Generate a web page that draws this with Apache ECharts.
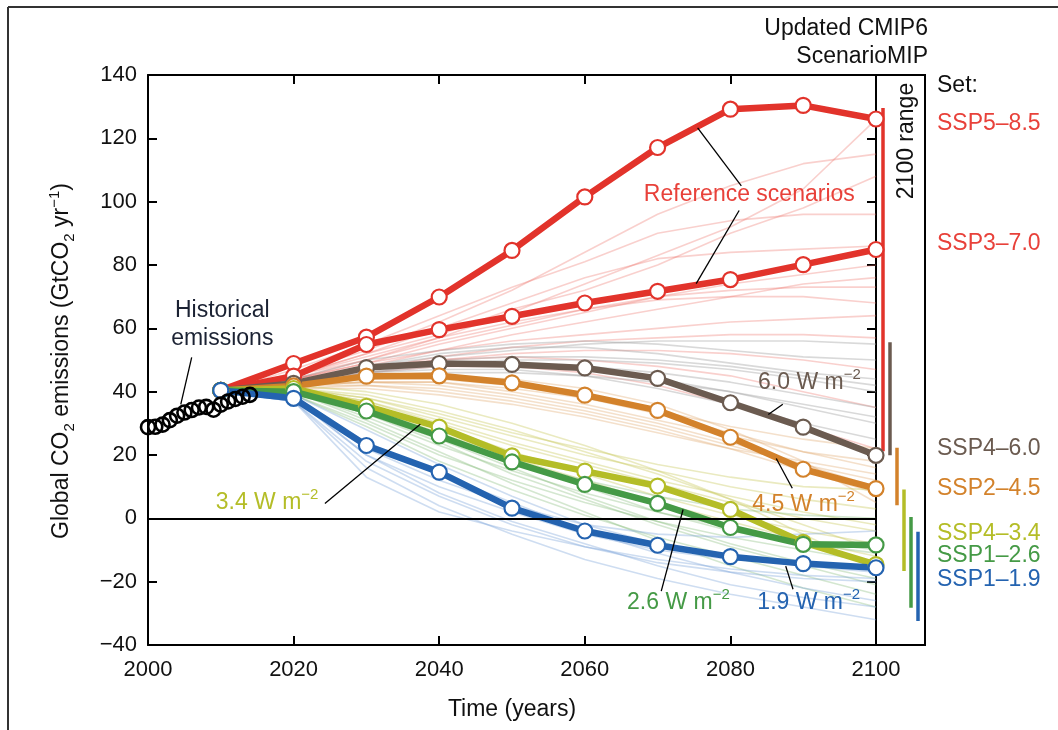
<!DOCTYPE html>
<html><head><meta charset="utf-8">
<script src="https://cdn.jsdelivr.net/npm/echarts@6/dist/echarts.min.js"></script>
<style>html,body{margin:0;padding:0;background:#fff}#c{width:1058px;height:730px}</style>
</head><body><div id="c"></div>
<script>
// ---------------- DATA ----------------
const xTicks = [2000, 2020, 2040, 2060, 2080, 2100];
const yTicks = [-40, -20, 0, 20, 40, 60, 80, 100, 120, 140];
const years = [2010, 2020, 2030, 2040, 2050, 2060, 2070, 2080, 2090, 2100];
const histYears = [2000,2001,2002,2003,2004,2005,2006,2007,2008,2009,2010,2011,2012,2013,2014];
const histValues = [28.8,28.9,29.6,31.0,32.4,33.4,34.2,35.0,35.2,34.3,35.9,36.9,37.7,38.4,39.0];

const ssp585 = [40.4, 48.9, 57.2, 69.9, 84.6, 101.5, 117.1, 129.2, 130.4, 126.1];
const ssp370 = [40.4, 44.9, 54.9, 59.6, 63.8, 68.0, 71.7, 75.4, 80.1, 84.9];
const ssp460 = [40.4, 42.6, 47.6, 48.9, 48.6, 47.5, 44.2, 36.5, 28.8, 19.9];
const ssp245 = [40.4, 41.8, 44.9, 45.0, 42.8, 38.9, 34.1, 25.6, 15.5, 9.4];
const ssp434 = [40.4, 41.0, 35.4, 28.8, 19.7, 14.9, 10.2, 2.8, -7.6, -14.6];
const ssp126 = [40.4, 40.0, 33.9, 26.0, 17.8, 10.7, 4.7, -2.9, -8.2, -8.4];
const ssp119 = [40.4, 37.9, 23.0, 14.6, 3.2, -4.0, -8.5, -12.1, -14.3, -15.6];

// faint individual model runs (values at the same years)
const redRuns = [
  [40,46,53,62,72,84,96,105,112,115],
  [40,45,50,57,65,74,83,92,104,126],
  [40,47,55,64,73,81,90,94,96,96],
  [40,45,52,58,66,72,80,90,98,108],
  [40,44,49,55,60,65,70,74,77,80],
  [40,44,50,56,61,66,70,72,73,73],
  [40,45,51,57,62,66,69,70,70,68],
  [40,43,48,53,58,62,66,70,74,76],
  [40,44,49,53,56,58,60,62,63,64],
  [40,43,47,51,54,56,57,58,58,57],
  [40,44,48,50,51,50,48,45,40,35],
  [40,43,46,48,48,46,42,36,29,22],
  [40,45,52,60,68,76,82,84,85,86],
  [40,44,47,50,52,53,53,52,50,47]
];
const grayRuns = [
  [40,43,48,51,53,55,56,56,56,55],
  [40,43,47,50,51,51,50,48,45,42],
  [40,42,46,48,49,48,46,43,39,35],
  [40,43,47,49,49,47,44,40,35,30],
  [40,42,45,46,46,45,43,40,36,32],
  [40,43,48,52,54,54,52,49,46,44],
  [40,42,46,47,47,45,41,36,30,25],
  [40,44,50,53,55,56,55,53,51,50],
  [40,43,46,49,50,50,49,47,44,40]
];
const orangeRuns = [
  [40,42,43,43,41,38,34,29,25,22],
  [40,42,44,44,42,38,33,27,21,16],
  [40,42,42,41,38,34,29,23,17,12],
  [40,41,42,40,37,33,28,22,15,8],
  [40,42,43,42,39,35,30,24,17,10],
  [40,42,44,45,44,41,36,28,18,5],
  [40,41,41,39,36,32,27,22,18,14],
  [40,42,43,43,40,36,31,26,21,18]
];
const yellowRuns = [
  [40,41,38,33,27,22,17,13,10,9],
  [40,41,37,31,24,18,12,7,2,-2],
  [40,40,36,29,21,14,7,1,-4,-8],
  [40,41,39,34,28,21,14,6,-2,-10],
  [40,40,35,27,19,12,5,-1,-7,-12],
  [40,42,40,36,30,23,15,6,-5,-16],
  [40,41,38,32,26,20,15,10,6,3],
  [40,41,37,30,23,17,11,5,0,-4]
];
const greenRuns = [
  [40,40,34,26,18,12,7,3,1,0],
  [40,40,32,23,15,8,2,-3,-7,-10],
  [40,39,30,20,12,5,-1,-6,-10,-14],
  [40,40,33,25,16,7,-1,-8,-14,-19],
  [40,39,29,18,9,1,-6,-12,-18,-24],
  [40,40,31,21,11,2,-7,-15,-22,-28],
  [40,41,36,28,19,10,2,-4,-8,-11],
  [40,40,33,24,14,6,-2,-9,-15,-21]
];
const blueRuns = [
  [40,38,22,12,4,-2,-5,-6,-5,-4],
  [40,38,20,10,2,-5,-10,-13,-14,-15],
  [40,37,18,7,-2,-9,-14,-17,-19,-20],
  [40,38,24,14,5,-4,-11,-17,-22,-26],
  [40,37,16,4,-5,-13,-19,-24,-28,-32],
  [40,39,28,17,7,-2,-8,-12,-15,-17],
  [40,38,20,8,-1,-8,-15,-21,-25,-28],
  [40,37,13,2,-4,-9,-13,-16,-18,-19]
];

// 2100 ranges (low, high) for each set
const rangeNames = ['SSP5/3', 'SSP4–6.0', 'SSP2–4.5', 'SSP4–3.4', 'SSP1–2.6', 'SSP1–1.9'];
const rangeLow  = [21.2, 19.9, 4.1, -16.6, -28.2, -32.4];
const rangeHigh = [129.6, 55.6, 22.3, 9.1, 0.4, -4.2];

const setLabels = ['SSP5–8.5', 'SSP3–7.0', 'SSP4–6.0', 'SSP2–4.5', 'SSP4–3.4', 'SSP1–2.6', 'SSP1–1.9'];

// ---------------- STYLE / LAYOUT ----------------
const FONT = '"Liberation Sans", Arial, Helvetica, sans-serif';
const C = {
  red: '#e2332b', gray: '#6b5b50', orange: '#d3822b', yellow: '#b4bd27', green: '#459a46', blue: '#2463b0'
};
const faintColors = {
  red: 'rgba(236,110,100,0.32)', gray: 'rgba(160,160,160,0.40)', orange: 'rgba(225,170,110,0.36)',
  yellow: 'rgba(200,200,90,0.38)', green: 'rgba(120,180,110,0.32)', blue: 'rgba(120,160,215,0.36)'
};
const rangeColors = [C.red, C.gray, C.orange, C.yellow, C.green, C.blue];
const labelColors = ['#e8413a', '#e8413a', C.gray, C.orange, C.yellow, C.green, C.blue];
const labelAnchorValues = [124.6, 86.6, 22.1, 9.4, -4.8, -11.9, -19.5];

const zip = (xs, ys) => xs.map((x, i) => [x, ys[i]]);

const series = [];
[['red', redRuns], ['gray', grayRuns], ['orange', orangeRuns], ['yellow', yellowRuns], ['green', greenRuns], ['blue', blueRuns]]
  .forEach(([k, runs]) => runs.forEach(r => series.push({
    type: 'line', xAxisIndex: 0, yAxisIndex: 0, data: zip(years, r), symbol: 'none', silent: true, z: 1,
    lineStyle: { color: faintColors[k], width: 1.6 }
  })));

// zero line
series.push({
  type: 'line', xAxisIndex: 0, yAxisIndex: 0, data: [], z: 2,
  markLine: { silent: true, symbol: 'none', label: { show: false }, lineStyle: { color: '#000', width: 2, type: 'solid' },
    data: [{ yAxis: 0 }], animation: false }
});

[[ssp585, C.red], [ssp370, C.red], [ssp460, C.gray], [ssp245, C.orange], [ssp434, C.yellow], [ssp126, C.green], [ssp119, C.blue]]
  .forEach(([d, c]) => series.push({
    type: 'line', xAxisIndex: 0, yAxisIndex: 0, data: zip(years, d), z: 3,
    symbol: 'circle', symbolSize: 15, showSymbol: true,
    lineStyle: { color: c, width: 6.5 },
    itemStyle: { color: '#fff', borderColor: c, borderWidth: 2.2 }
  }));

series.push({
  type: 'line', xAxisIndex: 0, yAxisIndex: 0, data: zip(histYears, histValues), z: 4,
  symbol: 'circle', symbolSize: 14,
  lineStyle: { width: 0, opacity: 0 },
  itemStyle: { color: 'rgba(255,255,255,0)', borderColor: '#000', borderWidth: 2.6 }
});

rangeLow.forEach((lo, i) => series.push({
  type: 'line', xAxisIndex: 2, yAxisIndex: 2, data: [[i + 1, lo], [i + 1, rangeHigh[i]]],
  symbol: 'none', lineStyle: { color: rangeColors[i], width: 3.5, cap: 'butt' }, z: 3
}));

const minus = v => (v < 0 ? '−' + Math.abs(v) : String(v));
const axisLineStyle = { color: '#000', width: 2 };

const option = {
  animation: false,
  backgroundColor: '#fff',
  grid: [
    { left: 148, right: 182, top: 75, bottom: 85, outerBoundsMode: 'none', containLabel: false },
    { left: 876, right: 133, top: 75, bottom: 85, outerBoundsMode: 'none', containLabel: false,
      show: true, borderColor: '#000', borderWidth: 2, backgroundColor: 'rgba(0,0,0,0)' }
  ],
  xAxis: [
    { type: 'value', gridIndex: 0, position: 'bottom', min: xTicks[0], max: xTicks[xTicks.length - 1],
      interval: xTicks[1] - xTicks[0], splitLine: { show: false },
      axisLine: { show: true, onZero: false, lineStyle: axisLineStyle },
      axisTick: { show: true, inside: true, length: 9, lineStyle: axisLineStyle },
      axisLabel: { show: true, color: '#111', fontSize: 22, fontFamily: FONT, margin: 14, formatter: v => String(v) } },
    { type: 'value', gridIndex: 0, position: 'top', min: xTicks[0], max: xTicks[xTicks.length - 1],
      interval: xTicks[1] - xTicks[0], splitLine: { show: false },
      axisLine: { show: true, onZero: false, lineStyle: axisLineStyle },
      axisTick: { show: true, inside: true, length: 9, lineStyle: axisLineStyle },
      axisLabel: { show: false } },
    { type: 'value', gridIndex: 1, min: 0, max: 7, show: false }
  ],
  yAxis: [
    { type: 'value', gridIndex: 0, position: 'left', min: yTicks[0], max: yTicks[yTicks.length - 1],
      interval: yTicks[1] - yTicks[0], splitLine: { show: false },
      axisLine: { show: true, onZero: false, lineStyle: axisLineStyle },
      axisTick: { show: true, inside: true, length: 9, lineStyle: axisLineStyle },
      axisLabel: { show: true, color: '#111', fontSize: 22, fontFamily: FONT, margin: 11, formatter: minus } },
    { type: 'value', gridIndex: 0, position: 'right', min: yTicks[0], max: yTicks[yTicks.length - 1],
      interval: yTicks[1] - yTicks[0], splitLine: { show: false },
      axisLine: { show: true, onZero: false, lineStyle: axisLineStyle },
      axisTick: { show: true, inside: true, length: 9, lineStyle: axisLineStyle },
      axisLabel: { show: false } },
    { type: 'value', gridIndex: 1, min: yTicks[0], max: yTicks[yTicks.length - 1], show: false }
  ],
  series: series
};

const chart = echarts.init(document.getElementById('c'), null, { renderer: 'canvas' });
chart.setOption(option);

// ---------------- ANNOTATIONS ----------------
const P = (x, y) => chart.convertToPixel({ xAxisIndex: 0, yAxisIndex: 0 }, [x, y]);
const supRich = {
  sup: { fontSize: 15, fontFamily: FONT, lineHeight: 14, verticalAlign: 'top' },
  sub: { fontSize: 15, fontFamily: FONT, lineHeight: 14, verticalAlign: 'bottom' }
};
function txt(text, pos, color, align, extra) {
  return Object.assign({
    type: 'text', x: pos[0], y: pos[1], z: 50,
    style: { text: text, fill: color, fontSize: 23, fontFamily: FONT, lineHeight: 30,
      align: align || 'center', verticalAlign: 'middle', rich: supRich }
  }, extra || {});
}
function seg(a, b, color) {
  return { type: 'line', z: 49, shape: { x1: a[0], y1: a[1], x2: b[0], y2: b[1] },
    style: { stroke: color || '#000', lineWidth: 1.3 } };
}

const g = [];
// frame of the figure
g.push({ type: 'line', z: 60, shape: { x1: 8, y1: 7, x2: 1058, y2: 7 }, style: { stroke: '#333', lineWidth: 2 } });
g.push({ type: 'line', z: 60, shape: { x1: 8, y1: 7, x2: 8, y2: 730 }, style: { stroke: '#333', lineWidth: 2 } });

// axis titles
g.push(txt('Global CO{sub|2} emissions (GtCO{sub|2} yr{sup|−1})', [62, 361], '#111', 'center', { rotation: Math.PI / 2 }));
g.push(txt('Time (years)', [P(2050, 0)[0], 710], '#111', 'center'));

// header
g.push(txt('Updated CMIP6', [928, 29], '#111', 'right'));
g.push(txt('ScenarioMIP', [928, 57], '#111', 'right'));
g.push(txt('Set:', [937, 86], '#111', 'left'));
g.push(txt('2100 range', [907, 141], '#111', 'center', { rotation: Math.PI / 2 }));

setLabels.forEach((s, i) => {
  g.push(txt(s, [937, P(2100, labelAnchorValues[i])[1]], labelColors[i], 'left'));
});

// historical
g.push(txt('Historical', P(2010.2, 65.6), '#1b2233', 'center'));
g.push(txt('emissions', P(2010.2, 56.8), '#1b2233', 'center'));
g.push(seg(P(2006.0, 50.8), P(2004.5, 36.0)));

// reference scenarios
g.push(txt('Reference scenarios', P(2082.6, 102.2), '#e8413a', 'center'));
g.push(seg(P(2075.5, 123.3), P(2081.5, 105.0)));
g.push(seg(P(2081.2, 97.2), P(2075.3, 74.1)));

// forcing labels
g.push(txt('6.0 W m{sup|−2}', P(2083.8, 42.9), C.gray, 'left'));
g.push(seg(P(2085.2, 32.8), P(2087.2, 36.0)));
g.push(txt('4.5 W m{sup|−2}', P(2083.0, 4.4), C.orange, 'left'));
g.push(seg(P(2086.3, 18.9), P(2088.5, 9.5)));
g.push(txt('2.6 W m{sup|−2}', P(2065.8, -26.5), C.green, 'left'));
g.push(seg(P(2070.5, -23.0), P(2073.5, 2.8)));
g.push(txt('1.9 W m{sup|−2}', P(2083.7, -26.5), C.blue, 'left'));
g.push(seg(P(2088.6, -22.4), P(2087.6, -15.1)));
g.push(txt('3.4 W m{sup|−2}', P(2009.3, 5.0), C.yellow, 'left'));
g.push(seg(P(2024.3, 4.7), P(2037.4, 29.7)));

chart.setOption({ graphic: g });
</script>
</body></html>
